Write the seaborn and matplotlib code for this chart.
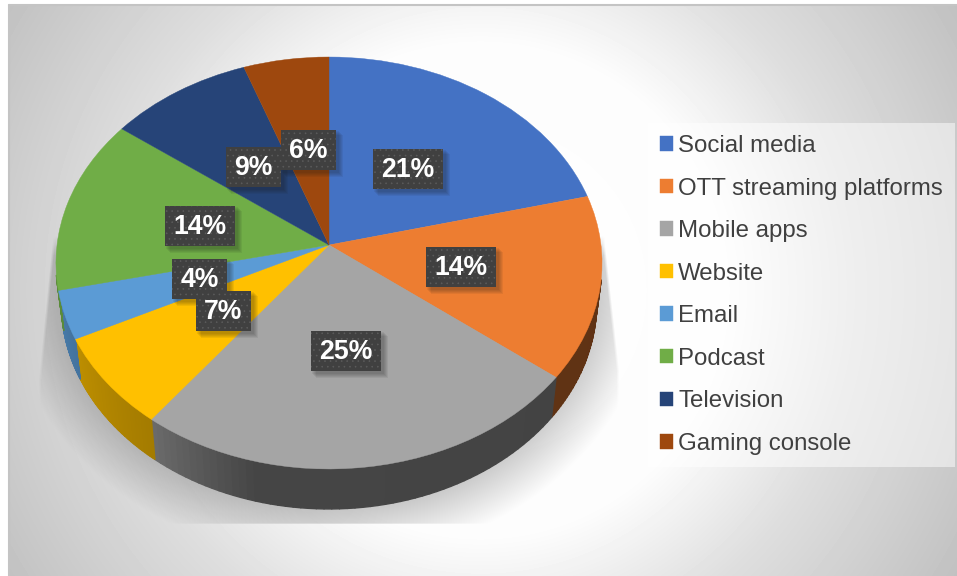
import numpy as np
import seaborn as sns
sns.set_theme(style='white')
import matplotlib.pyplot as plt
from matplotlib.collections import PolyCollection
from matplotlib.patches import Rectangle
from matplotlib.transforms import Transform

plt.rcParams['font.family'] = ['Liberation Sans', 'DejaVu Sans']

categories = ['Social media', 'OTT streaming platforms', 'Mobile apps', 'Website',
              'Email', 'Podcast', 'Television', 'Gaming console']
shares = [21.1, 14.4, 24.9, 7.3, 3.8, 13.7, 9.3, 5.5]
pie_colors = ['#4472c4', '#ed7d31', '#a5a5a5', '#ffc000', '#5b9bd5', '#70ad47', '#264478', '#9e480e']
# where each dark label box was dragged to, in pixels
label_pos = [(408, 169), (461, 267), (346, 351), (223, 311),
             (199.5, 279), (199.5, 226), (253, 167), (308, 150)]

W, H = 957, 576
CX, CY = 329, 245
DEPTH = 40


class Tilt(Transform):
    # unit pie -> pixels, the near edge comes out bigger than the far one
    input_dims = 2
    output_dims = 2

    def transform_non_affine(self, xy):
        xy = np.asarray(xy, dtype=float)
        w = 1 + 0.0873 * xy[:, 1]
        return np.column_stack([CX + 272 * xy[:, 0] / w, CY - 204.4 * xy[:, 1] / w])


tilt = Tilt()
fig, ax = plt.subplots(figsize=(W / 100, H / 100), dpi=100)
fig.subplots_adjust(0, 0, 1, 1)

# background, radial grey
yy, xx = np.mgrid[5:H, 9:W]
r = np.hypot(xx - 480, yy - 290)
bg = np.interp(r, [0, 250, 375, 560], [255, 252, 222, 192])
ax.imshow(bg, cmap='gray', vmin=0, vmax=255, extent=(9, W, H, 5), zorder=0)
ax.plot([9, 9], [5, H], color='#c4c4c4', lw=1.5, zorder=1)
ax.plot([9, W], [5, 5], color='#c4c4c4', lw=1.5, zorder=1)

# soft floor shadow under the pie
d = np.hypot((xx - 329) / 290, (yy - 280) / 250)
left = np.interp(yy, [230, 380], [53, 38])
right = np.interp(yy, [245, 370], [605, 619])
alpha = 0.26 * np.clip((1.12 - d) / 0.25, 0, 1)
alpha = alpha * np.clip((xx - left) / 3, 0, 1) * np.clip((right - xx) / 3, 0, 1)
alpha = alpha * np.clip((524 - yy) / 1.5, 0, 1) * np.clip((yy - 235) / 20, 0, 1)
sh = np.zeros(alpha.shape + (4,))
sh[..., 3] = alpha
ax.imshow(sh, extent=(9, W, H, 5), zorder=1)

palette = sns.color_palette(pie_colors)
wedges, _, autotexts = ax.pie(shares, colors=palette, startangle=90, counterclock=False,
                              autopct='%.0f%%', wedgeprops=dict(linewidth=0.3))
for w_, c in zip(wedges, palette):
    w_.set_transform(tilt + ax.transData)
    w_.set_edgecolor(c)
    w_.set_zorder(3)

# rim of the disc, thin quads per wedge so the shading can run along it
polys, cols = [], []
for w_, c in zip(wedges, palette):
    th = np.radians(np.linspace(w_.theta1, w_.theta2, 60))
    rim = tilt.transform(np.column_stack([np.cos(th), np.sin(th)]))
    low = np.column_stack([CX + 0.98 * (rim[:, 0] - CX), rim[:, 1] + DEPTH])
    clock = (90 - np.degrees(th)) % 360
    for i in range(len(th) - 1):
        if not 100 < clock[i] < 262:
            continue
        polys.append([rim[i], rim[i + 1], low[i + 1], low[i]])
        k = np.interp(clock[i], [90, 195, 217, 243, 262], [0.40, 0.42, 0.64, 0.74, 0.82])
        cols.append(tuple(np.array(c) * k))
ax.add_collection(PolyCollection(polys, facecolors=cols, edgecolors=cols, linewidths=1.0, zorder=2))

# dark label boxes
plt.rcParams['hatch.linewidth'] = 0.4
for t, (x, y) in zip(autotexts, label_pos):
    bw = 70 if len(t.get_text()) > 2 else 55
    for g in range(5):
        ax.add_patch(Rectangle((x - bw / 2 + 1 + g, y - 20 + 1 + g), bw + 2, 40 + 2, color='k',
                               alpha=0.07, lw=0, zorder=4))
    ax.add_patch(Rectangle((x - bw / 2, y - 20), bw, 40, facecolor='#404040', edgecolor='#5c5c5c',
                           hatch='...', lw=0, zorder=5))
    t.set_position((x, y + 1))
    t.set(color='white', fontweight='bold', fontsize=19.2, ha='center', va='center', zorder=6)

leg = ax.legend(wedges, categories, loc='upper left', bbox_to_anchor=(648, 123), ncol=1,
                bbox_transform=ax.transData, fontsize=17.3, labelcolor='#404040', frameon=True,
                facecolor='white', edgecolor='none', framealpha=0.5, fancybox=False, borderaxespad=0,
                handlelength=0.55, handleheight=0.55, handletextpad=0.2, labelspacing=0.855,
                borderpad=0.5)
leg.set_zorder(3)

ax.set_aspect('auto')
ax.set_xlim(0, W)
ax.set_ylim(H, 0)
ax.axis('off')
fig.savefig('out.png', dpi=100, facecolor='white')
